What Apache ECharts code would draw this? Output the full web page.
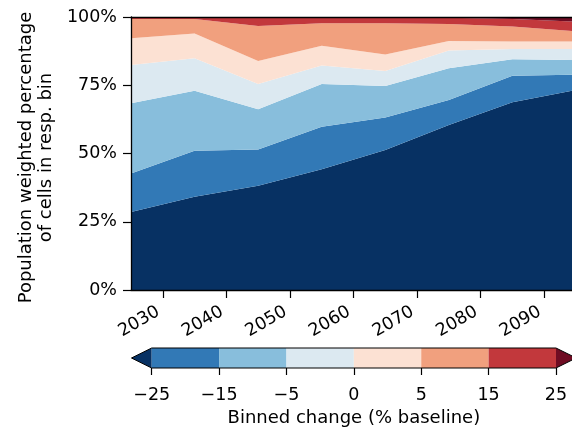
<!DOCTYPE html>
<html><head><meta charset="utf-8">
<script src="https://cdn.jsdelivr.net/npm/echarts@6/dist/echarts.min.js"></script>
<style>html,body{margin:0;padding:0;background:#fff;overflow:hidden}#c{width:572px;height:430px}</style>
</head><body><div id="c"></div>
<script>
// ---- data ----
const years = [2025, 2035, 2045, 2055, 2065, 2075, 2085, 2095];
const binLabels = ['< −25', '−25 to −15', '−15 to −5', '−5 to 0', '0 to 5', '5 to 15', '15 to 25', '> 25'];
const binBelow25 = [28.6, 34.2, 38.2, 44.2, 51.3, 60.4, 68.8, 73.3];
const bin25to15  = [14.1, 16.8, 13.3, 15.6, 11.9, 9.2, 9.7, 5.6];
const bin15to5   = [25.7, 22.0, 14.7, 15.7, 11.5, 11.6, 6.0, 5.3];
const bin5to0    = [14.0, 11.9, 9.3, 6.7, 5.5, 6.5, 3.8, 4.1];
const bin0to5    = [9.8, 9.1, 8.4, 7.3, 6.1, 3.5, 2.7, 2.7];
const bin5to15   = [7.1, 5.3, 12.8, 8.2, 11.4, 6.2, 5.5, 3.8];
const bin15to25  = [0.7, 0.7, 3.3, 2.3, 2.2, 2.3, 2.8, 3.5];
const binAbove25 = [0.0, 0.0, 0.0, 0.0, 0.1, 0.3, 0.7, 1.7];
const xTicks = [2030, 2040, 2050, 2060, 2070, 2080, 2090];
const cbBounds = ['−25', '−15', '−5', '0', '5', '15', '25'];
const binColors = ['#073163', '#3279b6', '#88bedc', '#dce9f1', '#fce1d3', '#f1a07e', '#c2383c', '#6f0c23'];

const binSeries = [binBelow25, bin25to15, bin15to5, bin5to0, bin0to5, bin5to15, bin15to25, binAbove25];
const FONT = 'DejaVu Sans';
const TICKFS = 17.5, LABFS = 18;
const EXT = 0.3;

const areaSeries = binSeries.map((vals, i) => ({
  name: binLabels[i],
  type: 'line',
  stack: 'total',
  xAxisIndex: 0, yAxisIndex: 0,
  data: vals.slice(),
  showSymbol: false, symbol: 'none',
  lineStyle: { width: 0 },
  areaStyle: { color: binColors[i], opacity: 1 },
  itemStyle: { color: binColors[i] },
  emphasis: { disabled: true },
  silent: true,
  z: 2
}));

const colorbarSeries = {
  type: 'custom',
  xAxisIndex: 3, yAxisIndex: 1,
  clip: false,
  silent: true,
  data: binColors.map((c, i) => [i]),
  renderItem: function (params, api) {
    const k = api.value(0);
    const n = binColors.length;
    let pts;
    if (k === 0) {
      pts = [api.coord([-EXT, 0.5]), api.coord([0, 1]), api.coord([0, 0])];
    } else if (k === n - 1) {
      pts = [api.coord([n - 2, 1]), api.coord([n - 2 + EXT, 0.5]), api.coord([n - 2, 0])];
    } else {
      pts = [api.coord([k - 1, 0]), api.coord([k - 1, 1]), api.coord([k, 1]), api.coord([k, 0])];
    }
    return { type: 'polygon', shape: { points: pts }, style: { fill: binColors[k], stroke: null } };
  },
  z: 2
};

const colorbarOutline = {
  type: 'custom',
  xAxisIndex: 3, yAxisIndex: 1,
  clip: false, silent: true,
  data: [[0]],
  renderItem: function (params, api) {
    const m = binColors.length - 2;
    const pts = [api.coord([-EXT, 0.5]), api.coord([0, 1]), api.coord([m, 1]), api.coord([m + EXT, 0.5]), api.coord([m, 0]), api.coord([0, 0])];
    return { type: 'polygon', shape: { points: pts }, style: { fill: null, stroke: '#000', lineWidth: 1 } };
  },
  z: 3
};

const chart = echarts.init(document.getElementById('c'), null, { renderer: 'canvas' });
chart.setOption({
  animation: false,
  backgroundColor: '#fff',
  textStyle: { fontFamily: FONT },
  grid: [
    { left: 131, right: -4, top: 17, bottom: 140, outerBoundsMode: 'none', containLabel: false },
    { left: 151.7, right: 16, top: 348, height: 20, outerBoundsMode: 'none', containLabel: false }
  ],
  xAxis: [
    {
      type: 'category', gridIndex: 0, data: years, boundaryGap: false, show: false
    },
    {
      type: 'value', gridIndex: 0, position: 'bottom', min: years[0], max: years[years.length - 1],
      axisLine: { show: true, onZero: false, lineStyle: { color: '#000', width: 1.3 } },
      axisTick: { show: true, length: 8, customValues: xTicks, lineStyle: { color: '#000', width: 1.2 } },
      axisLabel: { customValues: xTicks, formatter: v => String(v), rotate: 30, fontSize: TICKFS, color: '#000', margin: 18, padding: [0, 5, 0, 0], fontFamily: FONT },
      splitLine: { show: false },
      z: 10
    },
    {
      type: 'value', gridIndex: 0, position: 'top', min: years[0], max: years[years.length - 1],
      axisLine: { show: true, onZero: false, lineStyle: { color: '#000', width: 1.3 } },
      axisTick: { show: false }, axisLabel: { show: false }, splitLine: { show: false },
      z: 10
    },
    {
      type: 'value', gridIndex: 1, min: 0, max: 6, interval: 1,
      axisLine: { show: false },
      axisTick: { show: true, length: 7, lineStyle: { color: '#000', width: 1.2 } },
      axisLabel: { formatter: v => cbBounds[Math.round(v)], fontSize: TICKFS, color: '#000', margin: 18, fontFamily: FONT },
      splitLine: { show: false },
      name: 'Binned change (% baseline)', nameLocation: 'middle', nameGap: 41,
      nameTextStyle: { fontSize: LABFS, color: '#000', fontFamily: FONT }
    }
  ],
  yAxis: [
    {
      type: 'value', gridIndex: 0, min: 0, max: 100, interval: 25,
      axisLine: { show: true, onZero: false, lineStyle: { color: '#000', width: 1.3 } },
      axisTick: { show: true, length: 8, lineStyle: { color: '#000', width: 1.2 } },
      axisLabel: { formatter: v => v + '%', fontSize: TICKFS, color: '#000', margin: 14, fontFamily: FONT },
      splitLine: { show: false },
      name: 'Population weighted percentage\nof cells in resp. bin',
      nameLocation: 'middle', nameGap: 70, nameRotate: 90,
      nameTextStyle: { fontSize: LABFS, lineHeight: 20, color: '#000', fontFamily: FONT, align: 'center', padding: [0, 8, 0, 0] },
      z: 10
    },
    { type: 'value', gridIndex: 1, min: 0, max: 1, show: false }
  ],
  series: areaSeries.concat([colorbarSeries, colorbarOutline])
});
</script></body></html>
